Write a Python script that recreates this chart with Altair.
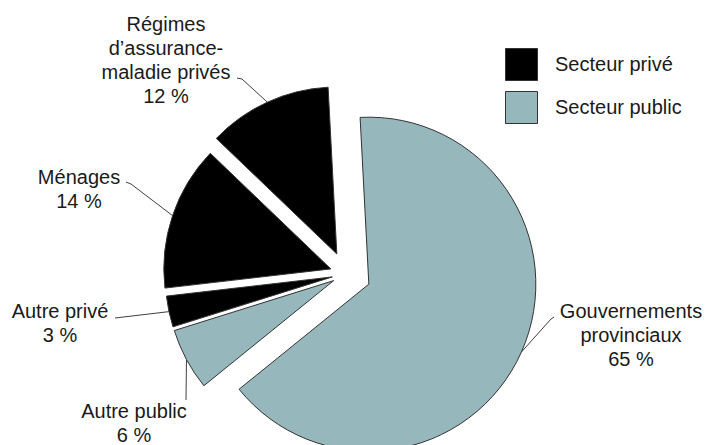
import altair as alt
import numpy as np
import pandas as pd

# ---- data ----
categories = ["Gouvernements provinciaux", "Autre public", "Autre privé",
              "Ménages", "Régimes d’assurance-maladie privés"]
values = [65, 6, 3, 14, 12]
sectors = ["Secteur public", "Secteur public", "Secteur privé",
           "Secteur privé", "Secteur privé"]
label_lines = [
    ["Gouvernements", "provinciaux", "65 %"],
    ["Autre public", "6 %"],
    ["Autre privé", "3 %"],
    ["Ménages", "14 %"],
    ["Régimes", "d’assurance-", "maladie  privés", "12 %"],
]
sector_domain = ["Secteur privé", "Secteur public"]
sector_colors = ["#000000", "#96B7BB"]

# ---- layout (pixels, chart coordinates) ----
W, H = 695, 437
CX, CY = 338, 266          # pie centre before explosion
R = 167                    # pie radius
START = np.deg2rad(-3)     # start angle (clockwise from 12 o'clock)
explode = [25, 14, 14, 16, 22]
label_anchor = [(623, 304), (126, 404), (52, 304), (71, 170), (158, 17)]
leader_end = [[(546, 309), (543, 311)], [(178, 392)], [(107, 310)],
              [(118, 174), (123, 176)], [(229, 70), (234, 71)]]
LINE_H = 24

# ---- derived geometry ----
vals = np.array(values, dtype=float)
cum = np.cumsum(vals)
mid = START + (cum - vals / 2) / vals.sum() * 2 * np.pi
cxs = CX + np.array(explode) * np.sin(mid)
cys = CY - np.array(explode) * np.cos(mid)

pie_df = pd.DataFrame({
    "category": categories, "value": values, "sector": sectors,
    "order": list(range(len(values))), "cx": cxs, "cy": cys,
})

leader_rows = []
for i, cat in enumerate(categories):
    pts = list(leader_end[i])
    ax = cxs[i] + R * np.sin(mid[i])
    ay = cys[i] - R * np.cos(mid[i])
    pts.append((ax, ay))
    for k, (px, py) in enumerate(pts):
        leader_rows.append({"category": cat, "k": k, "x": px, "y": py})
leader_df = pd.DataFrame(leader_rows)

text_rows = []
for i, lines in enumerate(label_lines):
    lx, ly = label_anchor[i]
    for j, t in enumerate(lines):
        text_rows.append({"category": categories[i], "text": t,
                          "x": lx, "y": ly + j * LINE_H})
text_df = pd.DataFrame(text_rows)

theta_scale = alt.Scale(domain=[0, 100], range=[float(START), float(START + 2 * np.pi)])

arcs = alt.Chart(pie_df).transform_window(
    cum="sum(value)", sort=[alt.SortField("order")]
).transform_calculate(
    start="datum.cum - datum.value"
).mark_arc(radius=R, stroke="#333333", strokeWidth=1).encode(
    theta=alt.Theta("start:Q", scale=theta_scale),
    theta2="cum:Q",
    x=alt.X("cx:Q", scale=None, axis=None),
    y=alt.Y("cy:Q", scale=None, axis=None),
    color=alt.Color("sector:N",
                    scale=alt.Scale(domain=sector_domain, range=sector_colors),
                    legend=alt.Legend(title=None, orient="none", legendX=497, legendY=40,
                                      symbolType="square", symbolSize=1024,
                                      symbolStrokeColor="#333333", symbolStrokeWidth=1,
                                      symbolOpacity=1,
                                      labelFont="Liberation Sans", labelFontSize=20,
                                      labelColor="#1a1a1a", rowPadding=6,
                                      labelOffset=17, padding=0)),
)

leaders = alt.Chart(leader_df).mark_line(color="#404040", strokeWidth=1).encode(
    x=alt.X("x:Q", scale=None, axis=None),
    y=alt.Y("y:Q", scale=None, axis=None),
    detail="category:N",
    order="k:Q",
)

texts = alt.Chart(text_df).mark_text(
    font="Liberation Sans", fontSize=20, align="center", baseline="middle",
    color="#1a1a1a"
).encode(
    x=alt.X("x:Q", scale=None, axis=None),
    y=alt.Y("y:Q", scale=None, axis=None),
    text="text:N",
)

chart = alt.layer(arcs, leaders, texts).properties(
    width=W, height=H, padding=0,
    autosize=alt.AutoSizeParams(type="none"),
).configure_view(stroke=None)

chart.save("out.html", embed_options={"renderer": "svg", "actions": False})
